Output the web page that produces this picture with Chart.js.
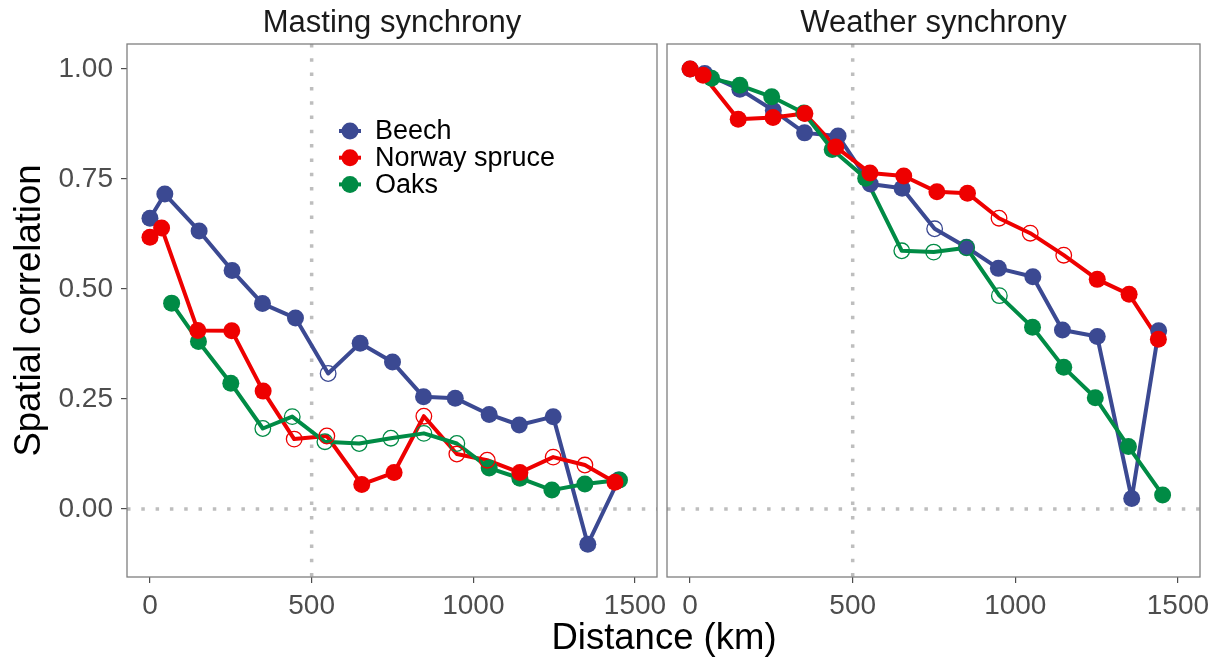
<!DOCTYPE html>
<html>
<head>
<meta charset="utf-8">
<script src="https://cdn.jsdelivr.net/npm/chart.js@4.4.1/dist/chart.umd.min.js"></script>
<style>
  html, body { margin: 0; padding: 0; background: #ffffff; }
  #fig { position: relative; width: 1220px; height: 660px; overflow: hidden;
         font-family: "Liberation Sans", Arial, Helvetica, sans-serif; }
  #leftPanel { position: absolute; left: 0; top: 0; }
  #rightPanel { position: absolute; left: 620px; top: 0; }
  #xTitle { position: absolute; left: 464px; width: 400px; top: 619px;
            text-align: center; font-size: 36.5px; line-height: 36px; color: #000; }
</style>
</head>
<body>
<div id="fig">
  <canvas id="leftPanel" width="700" height="660"></canvas>
  <canvas id="rightPanel" width="600" height="660"></canvas>
  <div id="xTitle">Distance (km)</div>
</div>
<script>
// Species and their colours
const seriesNames = ['Beech', 'Norway spruce', 'Oaks'];
const seriesColors = ['#3B4992', '#EE0000', '#008B45'];

// Axis settings
const xTickValues = [0, 500, 1000, 1500];
const yTickValues = [0, 0.25, 0.5, 0.75, 1];
const xLimits = [-71, 1568];
const yLimits = [-0.1545, 1.057];
const refDistance = 500;
const refCorrelation = 0;

// Masting synchrony (distance in km, correlation, 1 = significant)
const mastBeechKm  = [0, 46, 152, 254, 348, 450, 551, 650, 750, 846, 944, 1049, 1142, 1247, 1354, 1449];
const mastBeechR   = [0.661, 0.716, 0.632, 0.542, 0.467, 0.434, 0.308, 0.377, 0.334, 0.255, 0.252, 0.215, 0.191, 0.210, -0.080, 0.066];
const mastBeechSig = [1, 1, 1, 1, 1, 1, 0, 1, 1, 1, 1, 1, 1, 1, 1, 1];

const mastSpruceKm  = [0, 36, 148, 253, 350, 446, 547, 655, 755, 847, 949, 1043, 1144, 1247, 1345, 1438];
const mastSpruceR   = [0.618, 0.639, 0.406, 0.405, 0.268, 0.159, 0.166, 0.056, 0.083, 0.211, 0.125, 0.111, 0.083, 0.118, 0.100, 0.061];
const mastSpruceSig = [1, 1, 1, 1, 1, 0, 0, 1, 1, 0, 0, 0, 1, 0, 0, 1];

const mastOaksKm  = [67, 150, 250, 349, 440, 541, 647, 745, 847, 949, 1049, 1144, 1243, 1345, 1452];
const mastOaksR   = [0.468, 0.381, 0.286, 0.183, 0.210, 0.153, 0.149, 0.161, 0.172, 0.149, 0.093, 0.070, 0.043, 0.057, 0.066];
const mastOaksSig = [1, 1, 1, 0, 0, 0, 0, 0, 0, 0, 1, 1, 1, 1, 1];

// Weather synchrony
const wxBeechKm  = [0, 45, 153, 256, 352, 455, 554, 652, 752, 850, 948, 1054, 1145, 1252, 1358, 1441];
const wxBeechR   = [1.000, 0.990, 0.954, 0.906, 0.855, 0.848, 0.739, 0.729, 0.637, 0.595, 0.547, 0.528, 0.407, 0.392, 0.024, 0.405];
const wxBeechSig = [1, 1, 1, 1, 1, 1, 1, 1, 0, 1, 1, 1, 1, 1, 1, 1];

const wxSpruceKm  = [0, 40, 148, 255, 353, 448, 553, 657, 759, 853, 950, 1046, 1149, 1252, 1350, 1440];
const wxSpruceR   = [1.000, 0.986, 0.886, 0.890, 0.899, 0.823, 0.764, 0.757, 0.721, 0.718, 0.661, 0.627, 0.577, 0.522, 0.488, 0.386];
const wxSpruceSig = [1, 1, 1, 1, 1, 1, 1, 1, 1, 1, 0, 0, 0, 1, 1, 1];

const wxOaksKm  = [66, 153, 251, 350, 437, 540, 651, 749, 850, 951, 1053, 1149, 1246, 1348, 1453];
const wxOaksR   = [0.979, 0.963, 0.937, 0.900, 0.817, 0.752, 0.587, 0.584, 0.594, 0.485, 0.413, 0.322, 0.253, 0.142, 0.032];
const wxOaksSig = [1, 1, 1, 1, 1, 1, 0, 0, 0, 0, 1, 1, 1, 1, 1];

const FONT = '"Liberation Sans", Arial, Helvetica, sans-serif';
const TICK_SIZE = 28;
// draw order: all lines under all points; spruce points on top
const lineOrder  = [5, 4, 3];
const pointOrder = [2, 0, 1];

function panelDatasets(kms, rs, sigs) {
  const lines = [], points = [];
  seriesNames.forEach((name, i) => {
    const color = seriesColors[i];
    const data = kms[i].map((km, j) => ({ x: km, y: rs[i][j] }));
    lines.push({
      label: name, data, order: lineOrder[i],
      borderColor: color, borderWidth: 4, borderJoinStyle: 'round',
      pointRadius: 0, fill: false, tension: 0, clip: false
    });
    points.push({
      label: name, data, order: pointOrder[i], showLine: false, clip: false,
      pointRadius: sigs[i].map(s => s ? 8.5 : 7.8),
      pointBorderWidth: sigs[i].map(s => s ? 0 : 1.3),
      pointBackgroundColor: sigs[i].map(s => s ? color : 'rgba(0,0,0,0)'),
      pointBorderColor: color
    });
  });
  return lines.concat(points);
}

const panelDecor = {
  id: 'panelDecor',
  beforeDatasetsDraw(chart, args, o) {
    const { ctx, chartArea: a, scales: { x, y } } = chart;
    ctx.save();
    ctx.strokeStyle = '#BEBEBE';
    ctx.lineWidth = 3.5;
    ctx.setLineDash([3.5, 10.8]);
    ctx.beginPath();
    const px = x.getPixelForValue(refDistance);
    ctx.moveTo(px, a.top); ctx.lineTo(px, a.bottom);
    const py = y.getPixelForValue(refCorrelation);
    ctx.moveTo(a.left, py); ctx.lineTo(a.right, py);
    ctx.stroke();
    ctx.restore();
  },
  afterDatasetsDraw(chart, args, o) {
    const { ctx, chartArea: a } = chart;
    ctx.save();
    // panel border
    ctx.strokeStyle = '#7F7F7F';
    ctx.lineWidth = 1.3;
    ctx.strokeRect(a.left, a.top, a.right - a.left, a.bottom - a.top);
    // facet title
    ctx.fillStyle = '#1A1A1A';
    ctx.font = '31px ' + FONT;
    ctx.textAlign = 'center';
    ctx.textBaseline = 'middle';
    ctx.fillText(o.title, (a.left + a.right) / 2, 23);
    // legend
    if (o.legend) {
      const L = o.legend;
      seriesNames.forEach((name, i) => {
        const cy = L.y + i * L.dy;
        ctx.strokeStyle = seriesColors[i];
        ctx.fillStyle = seriesColors[i];
        ctx.lineWidth = 4;
        ctx.beginPath();
        ctx.moveTo(L.x - 11, cy); ctx.lineTo(L.x + 11, cy);
        ctx.stroke();
        ctx.beginPath();
        ctx.arc(L.x, cy, 8.5, 0, Math.PI * 2);
        ctx.fill();
        ctx.fillStyle = '#000000';
        ctx.font = '27px ' + FONT;
        ctx.textAlign = 'left';
        ctx.textBaseline = 'middle';
        ctx.fillText(name, L.textX, cy + 1);
      });
    }
    ctx.restore();
  }
};

function makePanel(canvasId, datasets, cfg) {
  return new Chart(document.getElementById(canvasId), {
    type: 'line',
    data: { datasets },
    options: {
      responsive: false,
      animation: false,
      events: [],
      layout: { padding: { left: cfg.padLeft, right: cfg.padRight, top: 44, bottom: 0 } },
      plugins: {
        legend: { display: false },
        tooltip: { enabled: false },
        panelDecor: { title: cfg.title, legend: cfg.legend }
      },
      scales: {
        x: {
          type: 'linear', min: xLimits[0], max: xLimits[1],
          afterBuildTicks: s => { s.ticks = xTickValues.map(v => ({ value: v })); },
          afterFit: s => { s.height = 83; },
          border: { display: false },
          grid: { drawOnChartArea: false, drawTicks: true, tickLength: 6, color: '#4D4D4D', lineWidth: 1.2 },
          ticks: { color: '#4D4D4D', font: { family: FONT, size: TICK_SIZE }, padding: 6,
                   maxRotation: 0, autoSkip: false, callback: v => String(v) }
        },
        y: {
          type: 'linear', min: yLimits[0], max: yLimits[1],
          display: cfg.showY,
          afterBuildTicks: s => { s.ticks = yTickValues.map(v => ({ value: v })); },
          afterFit: s => { s.width = cfg.yWidth; },
          border: { display: false },
          grid: { drawOnChartArea: false, drawTicks: true, tickLength: 6, color: '#4D4D4D', lineWidth: 1.2 },
          ticks: { color: '#4D4D4D', font: { family: FONT, size: TICK_SIZE }, padding: 8,
                   callback: v => Number(v).toFixed(2) },
          title: { display: true, text: 'Spatial correlation', color: '#000000',
                   font: { family: FONT, size: 36.5 }, padding: { top: 8, bottom: 0 } }
        }
      }
    },
    plugins: [panelDecor]
  });
}

makePanel('leftPanel',
  panelDatasets([mastBeechKm, mastSpruceKm, mastOaksKm], [mastBeechR, mastSpruceR, mastOaksR],
                [mastBeechSig, mastSpruceSig, mastOaksSig]),
  { padLeft: 0, padRight: 43, yWidth: 127, showY: true, title: 'Masting synchrony',
    legend: { x: 350, y: 131, dy: 26.7, textX: 375 } });

makePanel('rightPanel',
  panelDatasets([wxBeechKm, wxSpruceKm, wxOaksKm], [wxBeechR, wxSpruceR, wxOaksR],
                [wxBeechSig, wxSpruceSig, wxOaksSig]),
  { padLeft: 47, padRight: 20, yWidth: 0, showY: false, title: 'Weather synchrony', legend: null });
</script>
</body>
</html>
